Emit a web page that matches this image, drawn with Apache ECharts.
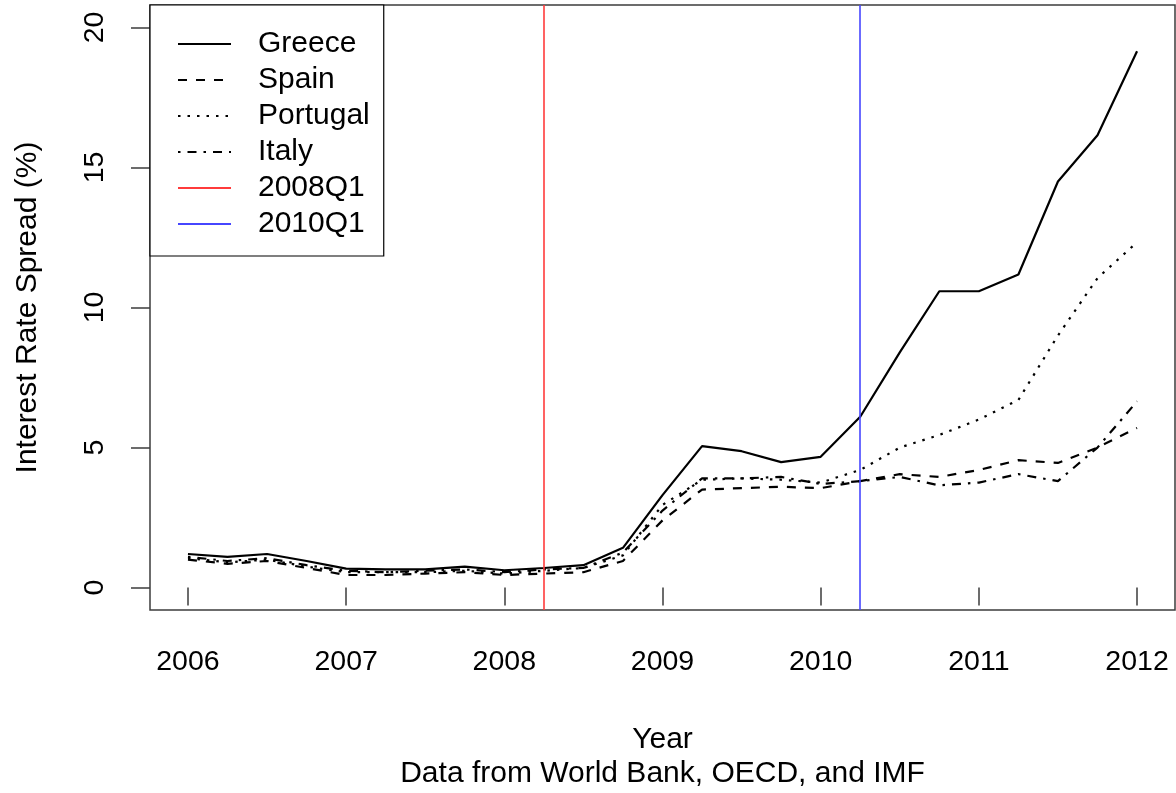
<!DOCTYPE html>
<html>
<head>
<meta charset="utf-8">
<title>Interest Rate Spread</title>
<script src="https://cdn.jsdelivr.net/npm/echarts@6/dist/echarts.min.js"></script>
<style>
  html, body { margin: 0; padding: 0; background: #ffffff; }
  #chart { width: 1176px; height: 793px; }
</style>
</head>
<body>
<div id="chart"></div>
<script>
// Quarterly observations, 2006Q1 .. 2012Q1
const periods = [
  2006, 2006.25, 2006.5, 2006.75,
  2007, 2007.25, 2007.5, 2007.75,
  2008, 2008.25, 2008.5, 2008.75,
  2009, 2009.25, 2009.5, 2009.75,
  2010, 2010.25, 2010.5, 2010.75,
  2011, 2011.25, 2011.5, 2011.75,
  2012
];

// Spread over the benchmark rate, percent
const greece   = [1.20, 1.10, 1.20, 0.95, 0.68, 0.65, 0.65, 0.75, 0.62, 0.70, 0.80, 1.42, 3.30, 5.05, 4.87, 4.48, 4.67, 6.10, 8.40, 10.58, 10.58, 11.18, 14.50, 16.15, 19.15];
const spain    = [1.00, 0.85, 0.95, 0.70, 0.45, 0.45, 0.50, 0.55, 0.45, 0.50, 0.55, 0.95, 2.40, 3.50, 3.55, 3.60, 3.55, 3.80, 4.05, 3.95, 4.20, 4.55, 4.45, 5.00, 5.70];
const portugal = [1.05, 0.90, 1.00, 0.75, 0.55, 0.55, 0.55, 0.60, 0.50, 0.60, 0.70, 1.15, 2.95, 3.85, 3.90, 3.85, 3.75, 4.20, 5.00, 5.45, 6.00, 6.70, 9.00, 11.05, 12.33];
const italy    = [1.10, 0.95, 1.05, 0.80, 0.60, 0.55, 0.60, 0.65, 0.55, 0.65, 0.70, 1.25, 2.75, 3.90, 3.90, 3.95, 3.70, 3.80, 3.95, 3.65, 3.75, 4.05, 3.80, 5.00, 6.65];

// Reference dates marked with vertical lines
const eventNames  = ['2008Q1', '2010Q1'];
const eventYears  = [2008.25, 2010.25];
const eventColors = ['#ff3b3b', '#4646ff'];

// Axis ticks
const xTicks = [2006, 2007, 2008, 2009, 2010, 2011, 2012];
const yTicks = [0, 5, 10, 15, 20];

const FONT = '"Liberation Sans", Arial, Helvetica, sans-serif';
const FS = 28.5;   // tick labels
const FS2 = 30;    // titles and legend
const frameColor = '#3c3c3c';

function pairs(values) {
  return periods.map((p, i) => [p, values[i]]);
}

const countrySeries = [
  { name: 'Greece',   values: greece,   dash: 'solid' },
  { name: 'Spain',    values: spain,    dash: [9, 9] },
  { name: 'Portugal', values: portugal, dash: [2.5, 7] },
  { name: 'Italy',    values: italy,    dash: [2.5, 7, 9, 7] }
].map(s => ({
  name: s.name,
  type: 'line',
  data: pairs(s.values),
  symbol: 'none',
  color: '#000000',
  lineStyle: { color: '#000000', width: 2.2, type: s.dash },
  emphasis: { disabled: true },
  animation: false,
  z: 3
}));

const eventSeries = eventNames.map((name, i) => ({
  name: name,
  type: 'line',
  data: [],
  symbol: 'none',
  color: eventColors[i],
  lineStyle: { color: eventColors[i], width: 1.6 },
  markLine: {
    silent: true,
    symbol: 'none',
    label: { show: false },
    lineStyle: { color: eventColors[i], width: 1.6, type: 'solid' },
    data: [{ xAxis: eventYears[i] }],
    animation: false
  },
  animation: false,
  z: 2
}));

const chart = echarts.init(document.getElementById('chart'), null, { renderer: 'canvas' });

chart.setOption({
  backgroundColor: '#ffffff',
  animation: false,
  textStyle: { fontFamily: FONT },
  grid: {
    left: 150, top: 5, width: 1025, height: 605,
    show: true, borderColor: frameColor, borderWidth: 1.5,
    containLabel: false
  },
  xAxis: {
    type: 'value',
    min: 2005.76, max: 2012.24,
    name: 'Year',
    nameLocation: 'middle',
    nameGap: 115,
    nameTextStyle: { color: '#000', fontSize: FS2, fontFamily: FONT },
    axisLine: { show: false },
    splitLine: { show: false },
    axisTick: {
      show: true, inside: false, length: 18,
      customValues: xTicks,
      lineStyle: { color: frameColor, width: 1.5 }
    },
    axisLabel: {
      show: true, margin: 38,
      customValues: xTicks,
      color: '#000', fontSize: FS, fontFamily: FONT,
      formatter: v => String(v)
    }
  },
  yAxis: {
    type: 'value',
    min: -0.8, max: 20.8,
    name: 'Interest Rate Spread (%)',
    nameLocation: 'middle',
    nameRotate: 90,
    nameGap: 107,
    nameTextStyle: { color: '#000', fontSize: FS2, fontFamily: FONT },
    axisLine: { show: false },
    splitLine: { show: false },
    axisTick: {
      show: true, inside: false, length: 19,
      customValues: yTicks,
      lineStyle: { color: frameColor, width: 1.5 }
    },
    axisLabel: {
      show: true, margin: 40, rotate: 90,
      customValues: yTicks,
      color: '#000', fontSize: FS, fontFamily: FONT,
      formatter: v => String(v)
    }
  },
  legend: {
    left: 150, top: 5,
    orient: 'vertical',
    backgroundColor: '#ffffff',
    borderColor: '#000000', borderWidth: 1.2,
    padding: [24, 14, 17, 27],
    itemWidth: 53, itemHeight: 14, itemGap: 6,
    selectedMode: false,
    itemStyle: { opacity: 0 },
    textStyle: { color: '#000', fontSize: FS2, fontFamily: FONT, lineHeight: 30, padding: [0, 0, 0, 22] },
    data: countrySeries.map(s => s.name).concat(eventNames)
  },
  series: countrySeries.concat(eventSeries),
  graphic: [{
    type: 'text',
    x: 662.5, y: 774,
    style: {
      text: 'Data from World Bank, OECD, and IMF',
      fill: '#000', font: FS2 + 'px ' + FONT,
      textAlign: 'center', textVerticalAlign: 'middle'
    },
    silent: true
  }]
});
</script>
</body>
</html>
